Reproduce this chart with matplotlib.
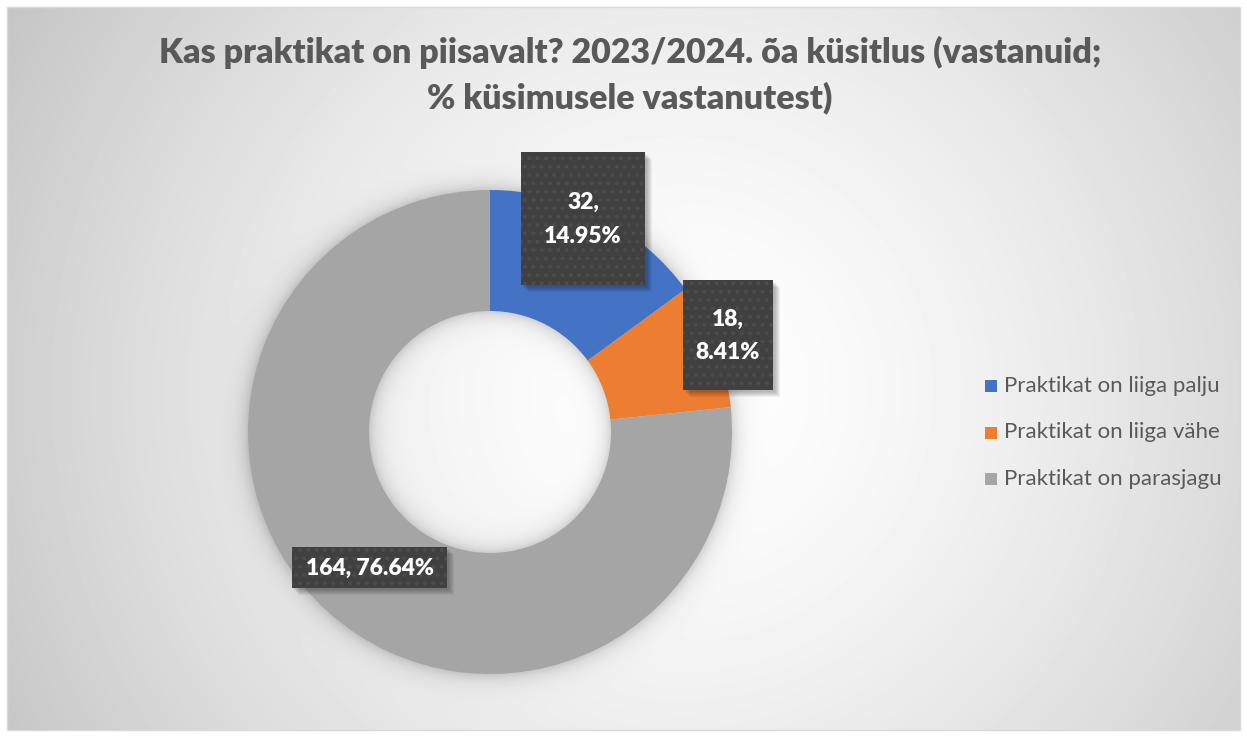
import numpy as np
import matplotlib
matplotlib.use('Agg')
import matplotlib.pyplot as plt
from matplotlib.patches import Rectangle

# data
categories = ['Praktikat on liiga palju', 'Praktikat on liiga vähe', 'Praktikat on parasjagu']
counts = [32, 18, 164]
colors = ['#4472C4', '#ED7D31', '#A5A5A5']
title = 'Kas praktikat on piisavalt? 2023/2024. õa küsitlus (vastanuid;\n% küsimusele vastanutest)'

plt.rcParams['font.family'] = ['Lato', 'DejaVu Sans']

W, H = 1247, 738
fig = plt.figure(figsize=(W / 100, H / 100), dpi=100)
ax = fig.add_axes([0, 0, 1, 1])

# chart area box (pixel coords, y down)
x0, y0, x1, y1 = 7, 7, 1240, 730
cx, cy = 490, 432
r_out, r_in = 242, 121

# radial gradient background + soft shadow of the ring
yy, xx = np.mgrid[y0:y1, x0:x1] + 0.5
rr = np.hypot(xx - 680, yy - 390)
bg = 1 - 0.23 * np.clip(rr / 774, 0, 1) ** 1.5
rd = np.hypot(xx - cx, yy - cy)
d = np.where(rd > r_out, rd - r_out, np.where(rd < r_in, r_in - rd, 0))
bg = bg - 0.16 * np.exp(-d / 9.0)
bg = np.clip(bg, 0, 1)
ax.imshow(bg, cmap='gray', vmin=0, vmax=1, extent=(x0, x1, y1, y0),
          interpolation='bilinear', zorder=0)
ax.add_patch(Rectangle((x0, y0), x1 - x0, y1 - y0, fill=False,
                       edgecolor='#d9d9d9', linewidth=1, zorder=1))

wedges, _ = ax.pie(counts, colors=colors, startangle=-90, counterclock=True,
                   radius=r_out, center=(cx, cy),
                   wedgeprops=dict(width=r_out - r_in, linewidth=0))
for w in wedges:
    w.set_zorder(2)

total = sum(counts)
labels = []
for c in counts:
    labels.append(f'{c}, {c / total * 100:.2f}%')

# label boxes: (left, top, width, height, text)
boxes = [
    (521, 152, 124, 133, labels[0].replace(', ', ',\n')),
    (683, 280, 90, 110, labels[1].replace(', ', ',\n')),
    (292, 547, 155, 41, labels[2]),
]
plt.rcParams['hatch.linewidth'] = 1.6
for (bx, by, bw, bh, txt) in boxes:
    for k in range(6):
        ax.add_patch(Rectangle((bx + 2 + k, by + 2 + k), bw, bh, facecolor='black',
                               edgecolor='none', alpha=0.05, zorder=3))
    ax.add_patch(Rectangle((bx, by), bw, bh, facecolor='#404040',
                           edgecolor='none', zorder=4))
    ax.add_patch(Rectangle((bx, by), bw, bh, fill=False, hatch='..',
                           edgecolor='#4c4c4c', linewidth=0, zorder=5))
    ax.text(bx + bw / 2, by + bh / 2 + 1, txt, color='white', fontsize=16.5,
            fontweight='heavy', ha='center', va='center', linespacing=1.75, zorder=6)

# title
lines = title.split('\n')
ax.text(630, 52, lines[0], fontsize=24.5, fontweight='heavy', color='#595959',
        ha='center', va='center', zorder=6)
ax.text(630, 98, lines[1], fontsize=24.5, fontweight='heavy', color='#595959',
        ha='center', va='center', zorder=6)

# legend
for i, (name, col) in enumerate(zip(categories, colors)):
    ly = 386 + i * 46.5
    ax.add_patch(Rectangle((985, ly - 6), 12, 12, facecolor=col, edgecolor='none', zorder=6))
    ax.text(1004, ly, name, fontsize=16, color='#595959', ha='left', va='center', zorder=6)

ax.set_xlim(0, W)
ax.set_ylim(H, 0)
ax.set_aspect('auto')
ax.axis('off')

fig.savefig('out.png', dpi=100, facecolor='white')
